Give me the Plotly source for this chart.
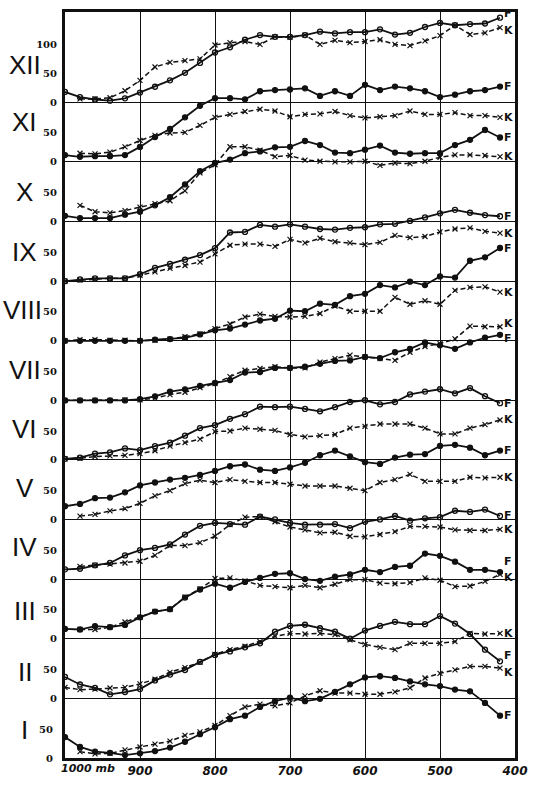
import plotly.graph_objects as go

# pressure levels (mb)
pressure = [1000, 980, 960, 940, 920, 900, 880, 860, 840, 820,
            800, 780, 760, 740, 720, 700, 680, 660, 640, 620,
            600, 580, 560, 540, 520, 500, 480, 460, 440, 420]

F_XII = [18, 9, 5, 3, 7, 17, 27, 38, 51, 68, 86, 95, 108, 116, 113, 113, 116, 122, 119, 121, 121, 126, 117, 120, 130, 137, 133, 135, 136, 146]
K_XII = [None, 6, 6, 8, 20, 38, 61, 69, 72, 75, 99, 103, 105, 100, 113, 112, 116, 100, 107, 103, 105, 108, 100, 98, 106, 115, 133, 117, 120, 129]

F_XI = [12, 9, 10, 10, 12, 26, 43, 57, 77, 97, 110, 110, 108, 122, 124, 125, 127, 114, 122, 114, 133, 124, 130, 127, 122, 112, 116, 122, 124, 130]
K_XI = [None, 15, 14, 17, 26, 37, 46, 50, 51, 63, 77, 82, 87, 91, 88, 78, 82, 83, 87, 80, 76, 78, 80, 88, 82, 82, 85, 80, 80, 77]

F_X = [10, 6, 6, 6, 12, 17, 28, 42, 64, 87, 101, 107, 118, 121, 128, 129, 139, 132, 119, 118, 124, 131, 119, 117, 118, 118, 132, 141, 158, 145]
K_X = [None, 28, 17, 15, 19, 25, 31, 36, 53, 84, 98, 129, 129, 123, 112, 114, 106, 104, 103, 103, 104, 97, 101, 100, 104, 111, 115, 115, 114, 112]

F_IX = [0, 3, 5, 5, 5, 12, 23, 30, 37, 45, 57, 84, 85, 97, 94, 98, 94, 90, 89, 92, 93, 98, 99, 104, 110, 117, 123, 118, 114, 112]
K_IX = [0, 2, 4, 5, 5, 10, 16, 22, 27, 33, 47, 62, 64, 64, 60, 72, 66, 74, 68, 66, 63, 67, 79, 75, 77, 85, 90, 92, 86, 83]

F_VIII = [0, 0, 0, 0, 0, 0, 2, 3, 5, 11, 18, 21, 28, 35, 38, 52, 51, 64, 62, 77, 81, 96, 92, 102, 96, 111, 109, 138, 144, 160]
K_VIII = [0, 2, 2, 1, 1, 0, 1, 3, 7, 12, 21, 29, 41, 46, 42, 41, 42, 47, 60, 51, 51, 51, 75, 63, 69, 63, 87, 92, 93, 84]

F_VII = [0, 0, 0, 0, 0, 2, 7, 15, 19, 25, 30, 35, 48, 49, 56, 56, 58, 63, 68, 69, 75, 73, 83, 89, 100, 95, 89, 100, 108, 113]
K_VII = [0, 0, 0, 0, 1, 1, 4, 10, 14, 22, 29, 41, 52, 55, 58, 56, 56, 66, 72, 78, 75, 72, 69, 83, 93, 98, 106, 128, 127, 127]

F_VI = [2, 4, 11, 13, 20, 17, 24, 30, 42, 55, 60, 71, 79, 92, 91, 92, 88, 84, 91, 100, 103, 96, 100, 113, 118, 122, 115, 124, 110, 98]
K_VI = [2, 3, 6, 7, 8, 11, 16, 24, 30, 36, 49, 50, 55, 53, 51, 44, 40, 42, 44, 55, 58, 62, 62, 62, 55, 45, 45, 55, 61, 69]

F_V = [23, 27, 37, 38, 47, 59, 64, 69, 72, 77, 84, 92, 95, 86, 84, 90, 98, 111, 119, 109, 99, 96, 107, 112, 113, 127, 129, 124, 111, 119]
K_V = [None, 6, 9, 15, 19, 28, 41, 50, 62, 68, 64, 69, 66, 64, 64, 61, 58, 58, 58, 54, 50, 64, 69, 78, 66, 66, 66, 73, 72, 73]

F_IV = [17, 18, 24, 28, 41, 50, 54, 60, 77, 92, 97, 95, 94, 108, 103, 97, 94, 94, 95, 88, 99, 103, 109, 101, 105, 107, 118, 116, 120, 109]
K_IV = [None, 22, 24, 26, 28, 31, 41, 58, 58, 63, 74, 94, 107, 108, 99, 90, 85, 80, 81, 74, 73, 77, 82, 91, 91, 90, 85, 84, 84, 86]

F_III = [17, 16, 22, 20, 24, 37, 47, 51, 71, 85, 95, 88, 98, 105, 112, 113, 103, 100, 107, 111, 119, 115, 124, 126, 147, 143, 133, 119, 119, 115]
K_III = [None, 16, 16, 20, 29, 37, 47, 51, 72, 86, 104, 105, 100, 92, 90, 88, 92, 88, 94, 102, 102, 96, 95, 97, 105, 101, 90, 91, 99, 111]

F_II = [37, 24, 18, 7, 11, 16, 31, 41, 49, 63, 75, 81, 88, 95, 115, 125, 127, 121, 115, 103, 117, 125, 132, 128, 128, 142, 129, 111, 84, 64]
K_II = [19, 15, 16, 18, 19, 25, 33, 45, 53, 62, 76, 84, 90, 98, 107, 112, 111, 112, 110, 101, 93, 88, 84, 95, 95, 95, 98, 112, 111, 112]

F_I = [36, 19, 11, 9, 5, 8, 12, 18, 28, 41, 53, 67, 73, 88, 98, 104, 98, 102, 114, 127, 139, 141, 138, 132, 127, 124, 118, 115, 95, 73]
K_I = [None, 11, 7, 8, 14, 19, 24, 29, 39, 45, 56, 73, 88, 93, 90, 95, 107, 116, 112, 112, 110, 110, 114, 121, 138, 146, 152, 158, 158, 155]

months = ["I", "II", "III", "IV", "V", "VI", "VII", "VIII", "IX", "X", "XI", "XII"]
F_series = [F_I, F_II, F_III, F_IV, F_V, F_VI, F_VII, F_VIII, F_IX, F_X, F_XI, F_XII]
K_series = [K_I, K_II, K_III, K_IV, K_V, K_VI, K_VII, K_VIII, K_IX, K_X, K_XI, K_XII]
open_marker = {"I": False, "II": True, "III": False, "IV": True, "V": False, "VI": True,
               "VII": False, "VIII": False, "IX": True, "X": False, "XI": False, "XII": True}
x_ticks = [900, 800, 700, 600, 500, 400]

W, H = 537, 787
ML, MR, MT, MB = 65, 14, 9, 19
plot_h = H - MT - MB
panel_px = 60.64
px_per_unit = 0.59
units_total = plot_h / px_per_unit

fig = go.Figure()
layout_axes = {}
annotations = []

numeral_y_px = {"XII": 63, "XI": 121, "X": 192, "IX": 253, "VIII": 312, "VII": 373,
                "VI": 433, "V": 493, "IV": 553, "III": 618, "II": 680, "I": 740}
numeral_x_px = {"VIII": 22}
# pixel nudges for the right-hand F / K labels (to keep them apart)
label_shift = {"XII": (4, -3), "VII": (-4, 3), "III": (11, -3), "II": (6, 0), "I": (0, -4)}

lab_font = dict(family="DejaVu Sans", size=11, color="#111", weight="bold")

for k, m in enumerate(months):
    yname = "y" if k == 0 else f"y{k+1}"
    axname = "yaxis" if k == 0 else f"yaxis{k+1}"
    b = k * panel_px / plot_h
    rng = [-b * units_total, (1 - b) * units_total]
    tv = [0, 50, 100] if m == "XII" else [0, 50]
    ax = dict(domain=[0, 1], range=rng, tickvals=tv, ticktext=[str(t) for t in tv],
              showgrid=False, zeroline=True, zerolinecolor="#111", zerolinewidth=1.2,
              ticks="", tickfont=dict(family="DejaVu Serif", size=10, color="#111", weight="bold"),
              ticklabelstandoff=7, fixedrange=True)
    if k == 0:
        ax.update(showline=True, linecolor="#111", linewidth=3, mirror=True)
    else:
        ax.update(overlaying="y", anchor="x", side="left", showline=False)
    layout_axes[axname] = ax

    fo = open_marker[m]
    fig.add_trace(go.Scatter(
        x=pressure, y=F_series[k], yaxis=yname, mode="lines+markers",
        line=dict(color="#111", width=1.8),
        marker=dict(symbol="circle-open" if fo else "circle", size=5,
                    color="#111", line=dict(color="#111", width=1.3)),
        showlegend=False, connectgaps=False))
    fig.add_trace(go.Scatter(
        x=pressure, y=K_series[k], yaxis=yname, mode="lines+markers",
        line=dict(color="#111", width=1.5, dash="5px,3px"),
        marker=dict(symbol="x-thin", size=5, color="#111", line=dict(color="#111", width=1.2)),
        showlegend=False, connectgaps=False))

    fs, ks = label_shift.get(m, (0, 0))
    annotations.append(dict(x=pressure[-1], y=F_series[k][-1], xref="x", yref=yname, text="F",
                            showarrow=False, xanchor="left", xshift=2, yshift=fs, font=lab_font))
    annotations.append(dict(x=pressure[-1], y=K_series[k][-1], xref="x", yref=yname, text="K",
                            showarrow=False, xanchor="left", xshift=2, yshift=ks, font=lab_font))
    nx = numeral_x_px.get(m, 24)
    annotations.append(dict(x=(nx - ML) / (W - ML - MR), y=(H - MB - numeral_y_px[m]) / plot_h,
                            xref="paper", yref="paper", text=m, showarrow=False,
                            xanchor="center", yanchor="middle",
                            font=dict(family="Liberation Sans", size=26, color="#111")))

annotations.append(dict(x=1000, y=0, xref="x", yref="paper", text="<i>1000 mb</i>",
                        showarrow=False, xanchor="left", yanchor="top", xshift=-6, yshift=-2,
                        font=dict(family="DejaVu Sans", size=11, color="#111", weight="bold")))

fig.update_layout(
    width=W, height=H,
    margin=dict(l=ML, r=MR, t=MT, b=MB),
    paper_bgcolor="white", plot_bgcolor="white",
    xaxis=dict(range=[1000, 400], tickvals=x_ticks, ticktext=[str(t) for t in x_ticks],
               showgrid=True, gridcolor="#111", gridwidth=1, zeroline=False,
               showline=True, linecolor="#111", linewidth=2.5, mirror=True, ticks="",
               tickfont=dict(family="DejaVu Sans", size=12, color="#111", weight="bold", style="italic"),
               ticklabelstandoff=0, fixedrange=True),
    annotations=annotations,
    **layout_axes,
)

fig.write_html("out.html")
